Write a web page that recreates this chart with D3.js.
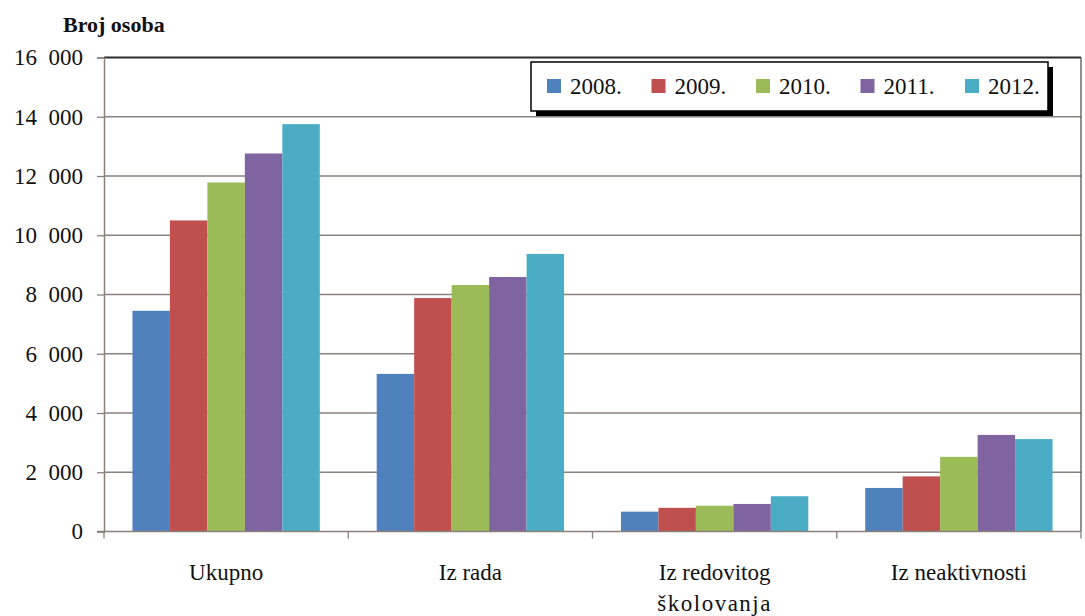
<!DOCTYPE html>
<html><head><meta charset="utf-8">
<script src="https://cdn.jsdelivr.net/npm/d3@7"></script>
<style>body{margin:0;background:#fff}svg{display:block}
svg text, svg tspan{font-family:"Liberation Serif",serif !important}</style>
</head><body><svg id="c" width="1085" height="616" style="font-family:'Liberation Serif',serif"></svg>
<script>
const categories = ["Ukupno", "Iz rada", "Iz redovitog\nškolovanja", "Iz neaktivnosti"];
const years = ["2008.", "2009.", "2010.", "2011.", "2012."];
const v2008 = [7450, 5320, 670, 1470];
const v2009 = [10500, 7880, 800, 1860];
const v2010 = [11780, 8320, 870, 2520];
const v2011 = [12760, 8590, 930, 3260];
const v2012 = [13750, 9370, 1190, 3120];
const yTicks = [0, 2000, 4000, 6000, 8000, 10000, 12000, 14000, 16000];
const yTitle = "Broj osoba";
const colors = ["#4F81BD", "#C0504D", "#9BBB59", "#8064A2", "#4BACC6"];

const FONT = "'Liberation Serif', serif";
const series = [v2008, v2009, v2010, v2011, v2012];
const svg = d3.select("#c");
const L = 104, R = 1081, T = 57.5, B = 531.5;
const x0 = d3.scaleBand().domain(categories).range([L, R]).paddingInner(0.233).paddingOuter(0.1165);
const x1 = d3.scaleBand().domain(years).range([0, x0.bandwidth()]);
const y = d3.scaleLinear().domain([0, 16000]).range([B, T]);
const color = d3.scaleOrdinal().domain(years).range(colors);
const fmt = v => v === 0 ? "0" : d3.format(",")(v).replace(",", "  ");
const setFont = (sel, size, bold) => sel.each(function() {
  this.style.setProperty("font-family", FONT, "important");
  this.style.setProperty("font-size", size + "px");
  if (bold) this.style.setProperty("font-weight", "bold");
});

// grid
svg.append("g").selectAll("line").data(yTicks.filter(d => d > 0)).join("line")
  .attr("x1", L).attr("x2", R).attr("y1", d => y(d)).attr("y2", d => y(d))
  .attr("stroke", d => d === 16000 ? "#2a2a2a" : "#8a817d").attr("stroke-width", d => d === 16000 ? 2 : 1.3);
svg.append("line").attr("x1", R).attr("x2", R).attr("y1", T).attr("y2", B).attr("stroke", "#555").attr("stroke-width", 1.3);

// bars
const g = svg.append("g").selectAll("g").data(categories).join("g")
  .attr("transform", d => `translate(${x0(d)},0)`);
g.selectAll("rect").data((d, i) => years.map((yr, j) => ({yr, v: series[j][i]}))).join("rect")
  .attr("x", d => x1(d.yr)).attr("width", x1.bandwidth())
  .attr("y", d => y(d.v)).attr("height", d => y(0) - y(d.v))
  .attr("fill", d => color(d.yr));

// y axis
const yAxis = d3.axisLeft(y).tickValues(yTicks).tickFormat(fmt).tickSize(7).tickPadding(14);
const ya = svg.append("g").attr("transform", `translate(${L},0)`).call(yAxis)
  .attr("font-family", FONT).attr("font-size", 23);
ya.select(".domain").attr("stroke", "#8a817d").attr("stroke-width", 1.5);
ya.selectAll(".tick line").attr("stroke", "#8a817d").attr("stroke-width", 1.3);
ya.selectAll(".tick text").attr("fill", "#111").attr("xml:space", "preserve").style("white-space", "pre");
setFont(ya.selectAll(".tick text"), 23);

// x axis
svg.append("line").attr("x1", L - 7).attr("x2", R).attr("y1", B).attr("y2", B).attr("stroke", "#8a817d").attr("stroke-width", 1.5);
const bounds = d3.range(categories.length + 1).map(i => L + i * x0.step());
svg.append("g").selectAll("line").data(bounds).join("line")
  .attr("x1", d => d).attr("x2", d => d).attr("y1", B).attr("y2", B + 7)
  .attr("stroke", "#8a817d").attr("stroke-width", 1.3);
const xl = svg.append("g").selectAll("text").data(categories).join("text")
  .attr("x", d => x0(d) + x0.bandwidth() / 2).attr("y", 580)
  .attr("text-anchor", "middle").attr("fill", "#111");
setFont(xl, 23);
xl.each(function(d) {
  const lines = d.split("\n");
  d3.select(this).selectAll("tspan").data(lines).join("tspan")
    .attr("x", x0(d) + x0.bandwidth() / 2).attr("dy", (l, i) => i === 0 ? 0 : 31)
    .attr("letter-spacing", (l, i) => i === 1 ? 1.5 : 0)
    .text(l => l);
});

// y title
const yt = svg.append("text").attr("x", 63).attr("y", 32).attr("fill", "#111").text(yTitle);
setFont(yt, 22, true);

// legend
const lx = 531, ly = 62, lw = 517, lh = 49;
svg.append("rect").attr("x", lx + 5).attr("y", ly + 5).attr("width", lw).attr("height", lh).attr("fill", "#000");
svg.append("rect").attr("x", lx).attr("y", ly).attr("width", lw).attr("height", lh).attr("fill", "#fff").attr("stroke", "#000").attr("stroke-width", 1.5);
const li = svg.append("g").selectAll("g").data(years).join("g")
  .attr("transform", (d, i) => `translate(${547 + i * 104.5},${ly + 17})`);
li.append("rect").attr("width", 14).attr("height", 14).attr("fill", d => color(d));
setFont(li.append("text").attr("x", 23).attr("y", 15).attr("fill", "#111").text(d => d), 23);
</script></body></html>
